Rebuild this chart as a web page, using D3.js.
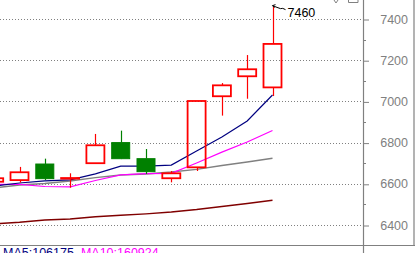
<!DOCTYPE html>
<html><head><meta charset="utf-8">
<script src="https://cdn.jsdelivr.net/npm/d3@7"></script>
<style>html,body{margin:0;padding:0;background:#fff;overflow:hidden}svg{display:block}</style>
</head><body><svg id="c" width="415" height="253"></svg>
<script>
const categories = ["d1","d2","d3","d4","d5","d6","d7","d8","d9","d10","d11","d12"];
const opens  = [6610,6618,6696,6625,6700,6800,6722,6627,6680,7025,7122,7068];
const closes = [6627,6656,6625,6628,6787,6722,6659,6651,7002,7078,7156,7279];
const highs  = [6635,6682,6722,6651,6842,6858,6769,6662,7002,7089,7225,7460];
const lows   = [6600,6606,6618,6581,6698,6720,6648,6607,6662,6931,7013,7026];
const ma5  = [6589,6604,6614,6619,6648,6686,6686,6691,6759,6827,6905,7031];
const ma10 = [6597,6597,6587,6585,6616,6643,6649,6651,6701,6754,6803,6859];
const ma20 = [6580,6594,6602,6614,6630,6643,6648,6657,6670,6689,6706,6724];
const ma60 = [6405,6413,6424,6429,6440,6447,6454,6463,6475,6490,6504,6520];
const yTicks = [6400,6600,6800,7000,7200,7400];
const yMinorTicks = [6500,6700,6900,7100,7300];
const highLabel = "7460";
const legend = [{t:"MA5:106175", c:"#000080"},{t:"MA10:160924", c:"#ff00ff"}];

const svg = d3.select("#c");
const W=415,H=253, plotR=363, plotB=245;
const x = d3.scaleLinear().domain([0, categories.length-1]).range([-5.8, 272.5]);
const y = d3.scaleLinear().domain([6400,7400]).range([225,19]);
const cw = 18;
const font = "'Liberation Sans', Arial, sans-serif";

svg.append("defs").append("clipPath").attr("id","clip")
  .append("rect").attr("x",0).attr("y",0).attr("width",plotR).attr("height",plotB);

// grid
svg.append("g").selectAll("line").data(yTicks).join("line")
  .attr("x1",0).attr("x2",plotR-1)
  .attr("y1",d=>Math.round(y(d))+0.5).attr("y2",d=>Math.round(y(d))+0.5)
  .attr("stroke","#808080").attr("stroke-width",1).attr("stroke-dasharray","1,2");

const g = svg.append("g").attr("clip-path","url(#clip)");

// MA lines
const line = arr => d3.line().x((d,i)=>x(i)).y(d=>y(d))(arr);
[[ma60,"#800000",1.5],[ma20,"#808080",1.5],[ma10,"#ff00ff",1.2],[ma5,"#000080",1.2]].forEach(([a,c,w])=>{
  g.append("path").attr("d",line(a)).attr("fill","none").attr("stroke",c).attr("stroke-width",w);
});

// candles
const idx = d3.range(categories.length);
const cg = g.append("g").selectAll("g").data(idx).join("g");
cg.each(function(i){
  const up = closes[i] >= opens[i];
  const col = up ? "#ff0000" : "#008000";
  const top = y(Math.max(opens[i],closes[i])), bot = y(Math.min(opens[i],closes[i]));
  const cx = Math.round(x(i))+0.5;
  const s = d3.select(this);
  s.append("line").attr("x1",cx).attr("x2",cx).attr("y1",y(highs[i])).attr("y2",top).attr("stroke",col).attr("stroke-width",1.2);
  s.append("line").attr("x1",cx).attr("x2",cx).attr("y1",bot).attr("y2",y(lows[i])).attr("stroke",col).attr("stroke-width",1.2);
  s.append("rect").attr("x",x(i)-cw/2).attr("y",top).attr("width",cw).attr("height",Math.max(bot-top,0.5))
    .attr("fill", up ? "none" : col).attr("stroke",col).attr("stroke-width", up ? 1.8 : 1);
});

// high annotation
const hi = highs.length-1;
const hx = x(hi), hy = y(highs[hi]);
svg.append("path").attr("d",`M${hx+3},${hy-2} L${hx},${hy-1} L${hx+2},${hy+1} M${hx},${hy-1} Q${hx+5},${hy+1} ${hx+8},${hy+2} Q${hx+10},${hy+1} ${hx+13},${hy+3}`)
  .attr("fill","none").attr("stroke","#000").attr("stroke-width",1);
svg.append("text").attr("x",hx+15).attr("y",hy+10).attr("font-family",font).attr("font-size",12.5)
  .attr("fill","#000").text(highLabel);

// axes frame
svg.append("line").attr("x1",plotR+0.5).attr("x2",plotR+0.5).attr("y1",0).attr("y2",H).attr("stroke","#808080").attr("stroke-width",1.2);
svg.append("line").attr("x1",0).attr("x2",W).attr("y1",plotB+0.5).attr("y2",plotB+0.5).attr("stroke","#808080").attr("stroke-width",1.2);
svg.append("line").attr("x1",W-1).attr("x2",W-1).attr("y1",0).attr("y2",plotB).attr("stroke","#808080").attr("stroke-width",1.2);

// right axis
const axis = d3.axisRight(y).tickValues(yTicks).tickSize(6).tickPadding(12).tickFormat(d3.format("d"));
const ag = svg.append("g").attr("transform",`translate(${plotR},0)`).call(axis);
ag.select(".domain").remove();
ag.selectAll(".tick line").attr("stroke","#808080").attr("transform","translate(0,0.5)");
ag.selectAll(".tick text").attr("font-family",font).attr("font-size",12.5).attr("fill","#808080")
  .attr("x",45).attr("text-anchor","end");
svg.append("g").selectAll("line").data(yMinorTicks).join("line")
  .attr("x1",plotR).attr("x2",plotR+3).attr("y1",d=>Math.round(y(d))+0.5).attr("y2",d=>Math.round(y(d))+0.5)
  .attr("stroke","#808080");

// top clipped marks
svg.append("path").attr("d","M334,0 L336,3 L338,0").attr("fill","none").attr("stroke","#808080");
svg.append("path").attr("d","M348.5,0 L348.5,2.5 L358,2.5 L358,0").attr("fill","none").attr("stroke","#808080");

// bottom legend (cut off at the bottom edge, as in the reference)
const lt = svg.append("text").attr("x",3).attr("y",257).attr("font-family",font).attr("font-size",12.5);
legend.forEach((l,i)=>{ lt.append("tspan").attr("fill",l.c).attr("dx", i? 7:0).text(l.t); });
</script></body></html>
